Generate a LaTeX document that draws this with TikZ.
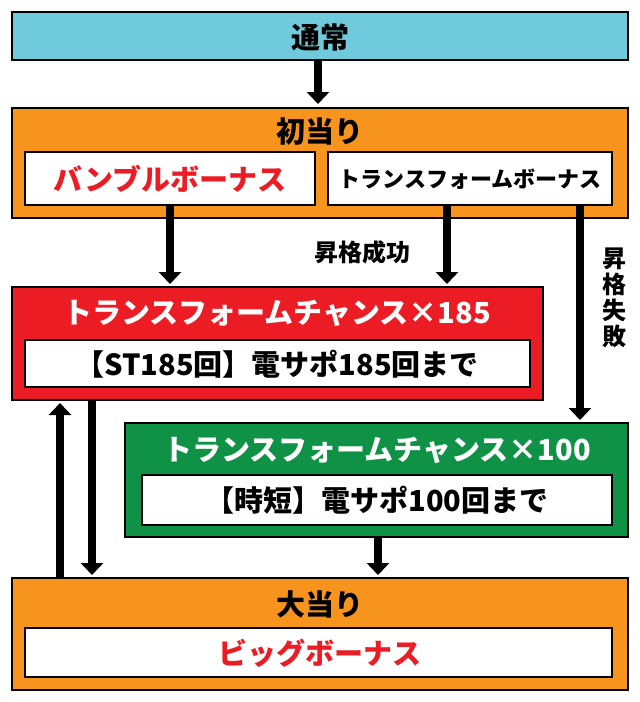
\documentclass[tikz,border=0pt]{standalone}
\usepackage{fontspec}
\setmainfont{Noto Sans CJK JP}
\usetikzlibrary{arrows.meta}
\definecolor{cy}{HTML}{6FCADB}
\definecolor{org}{HTML}{F7941D}
\definecolor{rd}{HTML}{EC1C24}
\definecolor{gr}{HTML}{0F9246}
\begin{document}
\begin{tikzpicture}[x=1pt,y=-1pt,
 box/.style={draw=black,line width=2pt},
 ttl/.style={font=\fontsize{29}{29}\selectfont\bfseries},
 big/.style={line width=8pt,-{Triangle[length=12pt,width=22pt]}}]
\useasboundingbox (0,0) rectangle (640,702);
\fill[white] (0,0) rectangle (640,702);
\filldraw[box,fill=cy] (12,12) rectangle (628,60);
\node[ttl] (t0) at (320,37) {通常};
\filldraw[box,fill=org] (12,108) rectangle (628,218);
\node[ttl] (t1) at (320,132) {初当り};
\filldraw[box,fill=white] (25,152) rectangle (315,205);
\node[ttl,text=rd] (b1) at (170,179) {バンブルボーナス};
\filldraw[box,fill=white] (328,152) rectangle (612,205);
\node[font=\fontsize{22}{22}\selectfont\bfseries] (b2) at (470,179) {トランスフォームボーナス};
\filldraw[box,fill=rd] (12,287) rectangle (543,400);
\node[ttl,text=white] (t2) at (277,313) {トランスフォームチャンス×185};
\filldraw[box,fill=white] (25,340) rectangle (530,387);
\node[ttl] (s2) at (277,364) {【ST185回】電サポ185回まで};
\filldraw[box,fill=gr] (125,423) rectangle (628,537);
\node[ttl,text=white] (t3) at (377,450) {トランスフォームチャンス×100};
\filldraw[box,fill=white] (142,475) rectangle (612,525);
\node[ttl] (s3) at (377,500) {【時短】電サポ100回まで};
\filldraw[box,fill=org] (12,578) rectangle (628,690);
\node[ttl] (t4) at (320,604) {大当り};
\filldraw[box,fill=white] (25,628) rectangle (612,677);
\node[ttl,text=rd] (b4) at (320,653) {ビッグボーナス};
\draw[big] (318,61) -- (318,104);
\draw[big] (170,206) -- (170,284);
\draw[big] (447,206) -- (447,284);
\node[font=\fontsize{24}{24}\selectfont\bfseries] (l1) at (362,252) {昇格成功};
\draw[big] (580,206) -- (580,420);
\node[font=\fontsize{24}{26}\selectfont\bfseries,align=center,inner sep=0pt] (l2) at (614,298) {昇\\格\\失\\敗};
\draw[big] (60,577) -- (60,403);
\draw[big] (92,401) -- (92,575);
\draw[big] (378,538) -- (378,575);
\end{tikzpicture}
\end{document}
